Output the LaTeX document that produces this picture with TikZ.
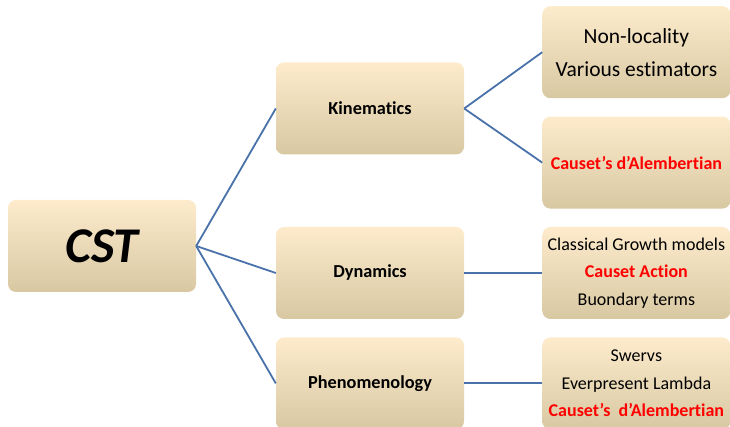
\documentclass[tikz,border=0pt]{standalone}
\usepackage{fontspec}
\setmainfont{Carlito}[Ligatures={NoCommon}]
\usetikzlibrary{positioning}
\definecolor{boxtop}{RGB}{253,235,204}
\definecolor{boxmid}{RGB}{243,235,216}
\definecolor{boxbot}{RGB}{216,200,162}
\definecolor{linkblue}{RGB}{74,114,170}
\tikzset{
  topic/.style={rounded corners=8pt, align=center, minimum width=188pt, minimum height=92pt, inner sep=0pt,
    top color=boxtop, middle color=boxmid, bottom color=boxbot},
  head/.style={topic, font=\fontsize{18.3}{22}\selectfont\bfseries},
  leaf/.style={topic, font=\fontsize{18}{27.5}\selectfont},
  link/.style={draw=linkblue, line width=1.8pt}
}
\newcommand{\hot}[1]{\textcolor{red}{\bfseries #1}}
\begin{document}
\begin{tikzpicture}[x=1pt, y=1pt, node distance=18pt and 78pt]
  \useasboundingbox (0,0) rectangle (730,427);
  \node[topic, font=\fontsize{50}{56}\selectfont\bfseries\itshape] (cst) at (102,181) {CST};
  \node[head] (kin) at (370,318.5) {Kinematics};
  \node[head] (dyn) at (370,154) {Dynamics};
  \node[head, below=of dyn] (phen) {Phenomenology};
  \node[leaf, right=of dyn] (growth) {Classical Growth models\\\hot{Causet Action}\\Buondary terms};
  \node[leaf, right=of phen] (pheno) {Swervs\\Everpresent Lambda\\\hot{Causet’s\ \ d’Alembertian}};
  \node[leaf, above=of growth, font=\fontsize{18}{22}\selectfont] (box) {\hot{Causet’s d’Alembertian}};
  \node[leaf, above=of box, font=\fontsize{21.5}{33}\selectfont] (nonloc) {Non-locality\\Various estimators};
  \draw[link] (cst.east) -- (kin.west);
  \draw[link] (cst.east) -- (dyn.west);
  \draw[link] (cst.east) -- (phen.west);
  \draw[link] (kin.east) -- (nonloc.west);
  \draw[link] (kin.east) -- (box.west);
  \draw[link] (dyn) -- (growth);
  \draw[link] (phen) -- (pheno);
\end{tikzpicture}
\end{document}
